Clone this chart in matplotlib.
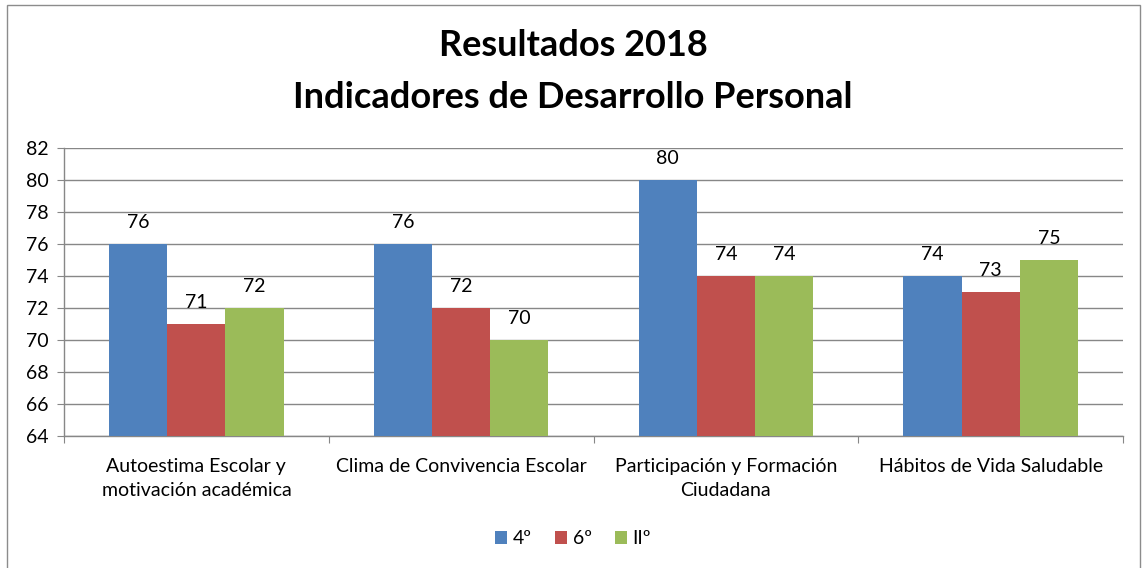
import matplotlib
matplotlib.use("Agg")
import matplotlib.pyplot as plt
import numpy as np
from matplotlib.patches import Rectangle

plt.rcParams['font.family'] = ['Lato', 'DejaVu Sans']

categories = ["Autoestima Escolar y\nmotivación académica", "Clima de Convivencia Escolar",
              "Participación y Formación\nCiudadana", "Hábitos de Vida Saludable"]
series_names = ["4º", "6º", "IIº"]
s4 = [76, 76, 80, 74]
s6 = [71, 72, 74, 73]
sII = [72, 70, 74, 75]
colors = ["#4F81BD", "#C0504D", "#9BBB59"]
yticks = [64, 66, 68, 70, 72, 74, 76, 78, 80, 82]

W, H = 1146, 568
fig = plt.figure(figsize=(W/100, H/100), dpi=100)
ax = fig.add_axes([64/W, 1-436/H, (1123-64)/W, (436-148)/H])

x = np.arange(len(categories))
bw = 0.22
for i, (vals, c, name) in enumerate(zip([s4, s6, sII], colors, series_names)):
    pos = x + (i-1)*bw
    ax.bar(pos, np.array(vals)-64, bottom=64, width=bw, color=c, label=name, zorder=3)
    for p, v in zip(pos, vals):
        ax.text(p, v+0.8, str(v), ha='center', va='bottom', fontsize=14, color='black')

ax.set_xlim(-0.5, len(categories)-0.5)
ax.set_ylim(64, 82)
ax.set_yticks(yticks)
ax.set_yticklabels([str(t) for t in yticks], fontsize=14)
ax.yaxis.grid(True, color='#878787', linewidth=1, zorder=0)
ax.set_xticks(np.arange(len(categories)+1)-0.5, minor=False)
ax.set_xticklabels([])
ax.tick_params(axis='x', length=5, color='#878787', direction='out')
ax.tick_params(axis='y', length=5, color='#878787', direction='out', pad=6)
for sp in ['top', 'right']:
    ax.spines[sp].set_visible(False)
for sp in ['left', 'bottom']:
    ax.spines[sp].set_color('#878787')
    ax.spines[sp].set_linewidth(1)
for xi, lab in zip(x, categories):
    ax.text(xi, 62.6, lab, ha='center', va='top', fontsize=14, linespacing=1.5,
            transform=ax.transData)

fig.text(0.5, 1-45/H, "Resultados 2018", ha='center', va='center', fontsize=26, fontweight='bold')
fig.text(0.5, 1-98/H, "Indicadores de Desarrollo Personal", ha='center', va='center', fontsize=26, fontweight='bold')

leg = fig.legend(loc='center', bbox_to_anchor=(0.5, 1-539/H), ncol=3, frameon=False,
                 fontsize=14, handlelength=0.6, handleheight=0.6, handletextpad=0.3, columnspacing=1.2)

fig.patches.append(Rectangle((7/W, -0.01), (1140-7)/W, 1-5/H+0.01, transform=fig.transFigure,
                             fill=False, edgecolor='#8c8c8c', linewidth=1))

fig.savefig("out.png", dpi=100)
